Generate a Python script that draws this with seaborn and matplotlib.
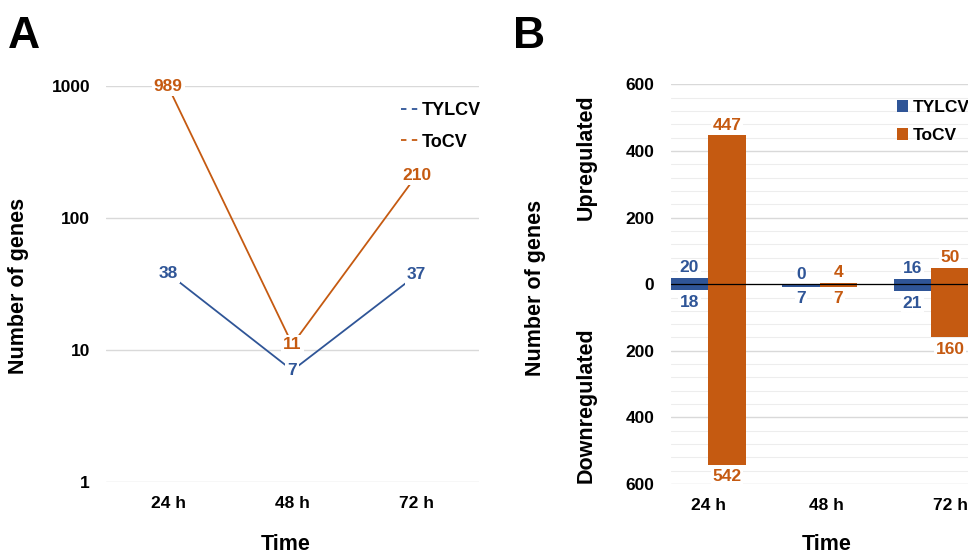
import pandas as pd
import matplotlib
matplotlib.use("Agg")
import matplotlib.pyplot as plt
import seaborn as sns
from matplotlib.lines import Line2D
from matplotlib.patches import Patch

# Datos
times = ['24 h', '48 h', '72 h']
viruses = ['TYLCV', 'ToCV']
total_tylcv = [38, 7, 37]
total_tocv = [989, 11, 210]
up_tylcv = [20, 0, 16]
up_tocv = [447, 4, 50]
down_tylcv = [18, 7, 21]
down_tocv = [542, 7, 160]

blue = '#2F5597'
orange = '#C55A11'
palette = {'TYLCV': blue, 'ToCV': orange}

sns.set_theme(style="white")
plt.rcParams['font.family'] = ['Liberation Sans', 'DejaVu Sans']
plt.rcParams['font.weight'] = 'bold'
for k in ['text.color', 'axes.labelcolor', 'xtick.color', 'ytick.color']:
    plt.rcParams[k] = 'black'

fig = plt.figure(figsize=(9.68, 5.54), dpi=100)
axA = fig.add_axes([0.1095, 0.130, 0.385, 0.715])
axB = fig.add_axes([0.693, 0.1264, 0.3456, 0.7211])

FS = 12.5
LAB = 15.5

# ---- Panel A ----
df_tot = pd.DataFrame({
    'Time': times * 2,
    'Genes': total_tylcv + total_tocv,
    'Virus': ['TYLCV'] * 3 + ['ToCV'] * 3,
})
sns.lineplot(data=df_tot, x='Time', y='Genes', hue='Virus', palette=palette,
             ax=axA, linewidth=1.3, legend=False, sort=False)
axA.set_yscale('log')
axA.set_ylim(1, 1000)
axA.set_xlim(-0.5, 2.5)
axA.set_yticks([1, 10, 100, 1000])
axA.set_yticklabels(['1', '10', '100', '1000'])
axA.minorticks_off()
axA.grid(axis='y', color='#D9D9D9', linewidth=1)
axA.set_axisbelow(True)
for s in axA.spines.values():
    s.set_visible(False)
axA.tick_params(axis='both', length=0, labelsize=FS)
axA.tick_params(axis='x', pad=10)
axA.tick_params(axis='y', pad=11.5)
axA.set_xlabel('')
axA.set_ylabel('')
for i, t in enumerate(times):
    for vals, c in [(total_tylcv, blue), (total_tocv, orange)]:
        axA.text(i, vals[i], str(vals[i]), color=c, fontsize=FS, fontweight='bold',
                 ha='center', va='center',
                 bbox=dict(facecolor='white', edgecolor='none', pad=1.5))
handlesA = [Line2D([0], [0], color=palette[v], linestyle=(0, (3, 3)), linewidth=1.3) for v in viruses]
axA.legend(handlesA, viruses, loc='upper right', bbox_to_anchor=(1.05, 1.0), frameon=False,
           fontsize=13, handlelength=1.0, handletextpad=0.15, labelspacing=0.8)
fig.text(0.2956, 0.018, 'Time', fontsize=LAB, fontweight='bold', ha='center', va='center')
fig.text(0.0186, 0.484, 'Number of genes', fontsize=LAB, fontweight='bold', rotation=90,
         ha='center', va='center')
fig.text(0.008, 0.935, 'A', fontsize=32, fontweight='bold', va='center')

# ---- Panel B ----
df_up = pd.DataFrame({
    'Time': times * 2,
    'Genes': up_tylcv + up_tocv,
    'Virus': ['TYLCV'] * 3 + ['ToCV'] * 3,
})
df_down = pd.DataFrame({
    'Time': times * 2,
    'Genes': [-v for v in down_tylcv + down_tocv],
    'Virus': ['TYLCV'] * 3 + ['ToCV'] * 3,
})
sns.barplot(data=df_up, x='Time', y='Genes', hue='Virus', palette=palette, ax=axB,
            width=0.67, gap=0, legend=False, errorbar=None, saturation=1, linewidth=0)
sns.barplot(data=df_down, x='Time', y='Genes', hue='Virus', palette=palette, ax=axB,
            width=0.67, gap=0, legend=False, errorbar=None, saturation=1, linewidth=0)
axB.set_ylim(-600, 600)
axB.set_xlim(-0.335, 2.665)
# the category labels in the original sit slightly right of the bar groups
axB.set_xticks([0, 1.06, 2.17])
axB.set_xticklabels(times)
axB.set_yticks(range(-600, 601, 200))
axB.set_yticklabels([str(abs(v)) for v in range(-600, 601, 200)])
axB.set_yticks(range(-600, 601, 40), minor=True)
axB.grid(axis='y', which='major', color='#D9D9D9', linewidth=1)
axB.grid(axis='y', which='minor', color='#EDEDED', linewidth=0.8)
axB.set_axisbelow(True)
axB.axhline(0, color='black', linewidth=0.9, zorder=3)
for s in axB.spines.values():
    s.set_visible(False)
axB.tick_params(axis='both', which='both', length=0, labelsize=FS)
axB.tick_params(axis='x', pad=10)
axB.tick_params(axis='y', pad=12)
axB.set_xlabel('')
axB.set_ylabel('')
off = 0.1675
for i in range(len(times)):
    for dx, up, dn, c in [(-off, up_tylcv, down_tylcv, blue), (off, up_tocv, down_tocv, orange)]:
        axB.text(i + dx, up[i] + 30, str(up[i]), color=c, fontsize=FS, fontweight='bold',
                 ha='center', va='center',
                 bbox=dict(facecolor='white', edgecolor='none', pad=1))
        axB.text(i + dx, -dn[i] - 36, str(dn[i]), color=c, fontsize=FS, fontweight='bold',
                 ha='center', va='center',
                 bbox=dict(facecolor='white', edgecolor='none', pad=1))
handlesB = [Patch(facecolor=palette[v], edgecolor='none') for v in viruses]
axB.legend(handlesB, viruses, loc='upper left', bbox_to_anchor=(0.63, 1.0), frameon=False,
           fontsize=FS, handlelength=0.6, handleheight=0.6, handletextpad=0.3, labelspacing=0.75)
fig.text(0.8535, 0.018, 'Time', fontsize=LAB, fontweight='bold', ha='center', va='center')
fig.text(0.553, 0.48, 'Number of genes', fontsize=LAB, fontweight='bold', rotation=90,
         ha='center', va='center')
fig.text(0.606, 0.717, 'Upregulated', fontsize=LAB, fontweight='bold', rotation=90,
         ha='center', va='center')
fig.text(0.606, 0.269, 'Downregulated', fontsize=LAB, fontweight='bold', rotation=90,
         ha='center', va='center')
fig.text(0.530, 0.935, 'B', fontsize=32, fontweight='bold', va='center')

plt.savefig('out.png', dpi=100)
